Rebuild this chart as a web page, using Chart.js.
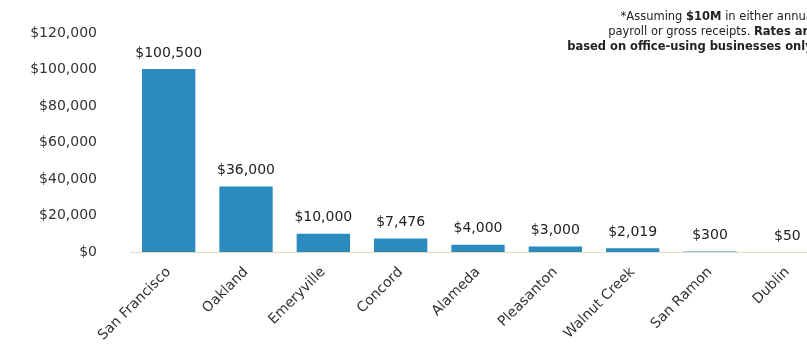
<!DOCTYPE html>
<html>
<head>
<meta charset="utf-8">
<script src="https://cdn.jsdelivr.net/npm/chart.js@4.4.1/dist/chart.umd.min.js"></script>
<style>
  html, body { margin: 0; padding: 0; background: #fff; overflow: hidden; }
  #wrap { position: relative; width: 830px; height: 361px; }
</style>
</head>
<body>
<div id="wrap"><canvas id="chart"></canvas></div>
<script>
// City business tax for $10M payroll / gross receipts
const cities = ['San Francisco', 'Oakland', 'Emeryville', 'Concord', 'Alameda',
  'Pleasanton', 'Walnut Creek', 'San Ramon', 'Dublin'];
const taxValues = [100500, 36000, 10000, 7476, 4000, 3000, 2019, 300, 50];
const yTicks = [0, 20000, 40000, 60000, 80000, 100000, 120000];

const noteLines = [
  [['*Assuming ', false], ['$10M', true], [' in either annual', false]],
  [['payroll or gross receipts. ', false], ['Rates are', true]],
  [['based on office-using businesses only.', true]]
];

const FONT = '"DejaVu Sans", sans-serif';
const BAR = '#2b8bbf';
const money = v => '$' + v.toLocaleString('en-US');

// value labels above bars + the footnote at top right
const labelsPlugin = {
  id: 'labels',
  afterDatasetsDraw(chart) {
    const ctx = chart.ctx;
    const meta = chart.getDatasetMeta(0);
    ctx.save();
    ctx.fillStyle = '#222';
    ctx.font = '14px ' + FONT;
    ctx.textAlign = 'center';
    ctx.textBaseline = 'bottom';
    meta.data.forEach((bar, i) => {
      ctx.fillText(money(taxValues[i]), bar.x, bar.y - 9);
    });

    // note, right aligned
    const right = 816;
    ctx.textBaseline = 'middle';
    ctx.textAlign = 'left';
    noteLines.forEach((line, li) => {
      let w = 0;
      line.forEach(([t, b]) => {
        ctx.font = (b ? 'bold ' : '') + '11.5px ' + FONT;
        w += ctx.measureText(t).width;
      });
      let x = right - w;
      const y = 17 + li * 15;
      line.forEach(([t, b]) => {
        ctx.font = (b ? 'bold ' : '') + '11.5px ' + FONT;
        ctx.fillText(t, x, y);
        x += ctx.measureText(t).width;
      });
    });
    ctx.restore();
  }
};

new Chart(document.getElementById('chart'), {
  type: 'bar',
  data: {
    labels: cities,
    datasets: [{
      data: taxValues,
      backgroundColor: BAR,
      barPercentage: 0.69,
      categoryPercentage: 1.0
    }]
  },
  options: {
    responsive: true,
    maintainAspectRatio: false,
    animation: false,
    layout: { padding: { top: 22, right: 4, left: 0, bottom: 0 } },
    plugins: { legend: { display: false }, tooltip: { enabled: false } },
    scales: {
      x: {
        grid: { display: false },
        border: { display: true, color: '#ead9c4', width: 1, dash: [2, 2] },
        ticks: {
          color: '#333',
          font: { family: FONT, size: 14 },
          minRotation: 45,
          maxRotation: 45,
          padding: 4
        },
        afterFit(scale) { scale.height = 109; }
      },
      y: {
        min: 0,
        max: 120000,
        afterBuildTicks(scale) { scale.ticks = yTicks.map(v => ({ value: v })); },
        grid: { display: false },
        border: { display: false },
        ticks: {
          color: '#333',
          font: { family: FONT, size: 14 },
          padding: 25,
          callback: v => money(v)
        },
        afterFit(scale) { scale.width = 130; }
      }
    }
  },
  plugins: [labelsPlugin]
});
</script>
</body>
</html>
